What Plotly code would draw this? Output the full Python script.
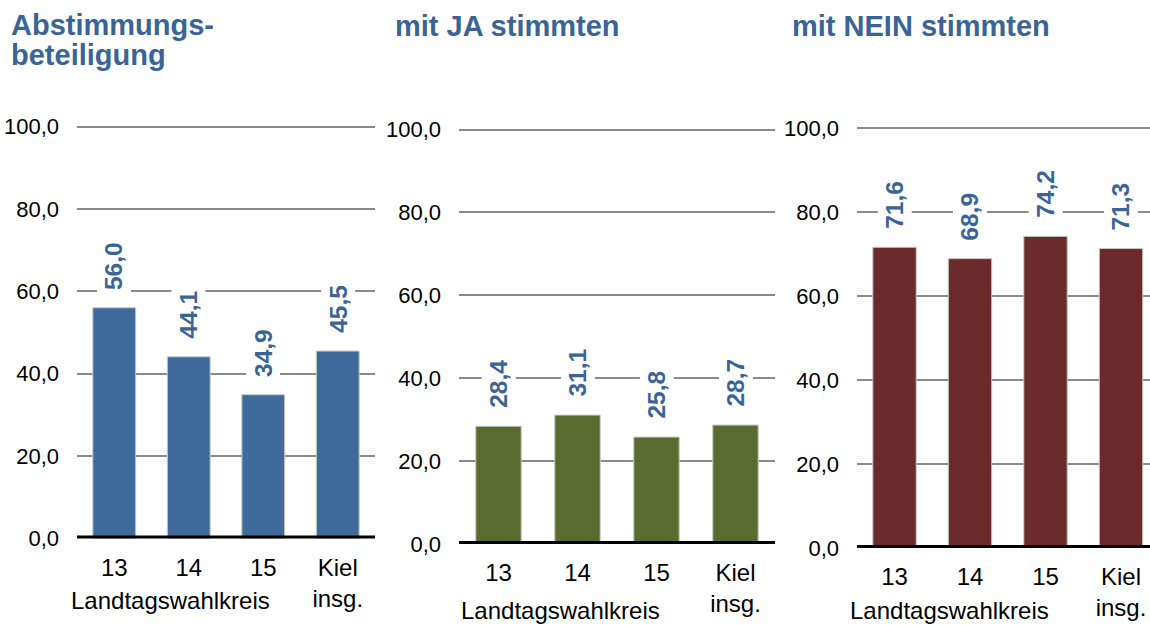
import plotly.graph_objects as go

categories = ["13", "14", "15", "Kiel insg."]
tick_labels = ["13", "14", "15", "Kiel<br>insg."]
beteiligung = [56.0, 44.1, 34.9, 45.5]
ja = [28.4, 31.1, 25.8, 28.7]
nein = [71.6, 68.9, 74.2, 71.3]
titles = ["Abstimmungs-", "beteiligung", "mit JA stimmten", "mit NEIN stimmten"]
axis_title = "Landtagswahlkreis"
y_ticks = [0, 20, 40, 60, 80, 100]
y_ticktext = ["0,0", "20,0", "40,0", "60,0", "80,0", "100,0"]

FONT = "Liberation Sans, Arial, sans-serif"
TITLE_BLUE = "#3B6496"
colors = ["#3E6A9C", "#5A6B2F", "#6A2B2A"]
W, H = 1150, 625

def px_x(p):
    return p / W

def px_y(p):
    return 1 - p / H

panels = [
    dict(vals=beteiligung, xd=(77, 375), yd=(538.5, 122.4), xr=[-0.5, 3.5], color=colors[0], lab=(170.5, 600)),
    dict(vals=ja, xd=(459, 775), yd=(544, 125.4), xr=[-0.5, 3.5], color=colors[1], lab=(560.5, 610)),
    dict(vals=nein, xd=(857, 1150), yd=(548, 123.8), xr=[-0.497, 3.384], color=colors[2], lab=(949, 610)),
]

fig = go.Figure()
annotations = []
shapes = []
layout = dict(
    template="none",
    width=W, height=H, margin=dict(l=0, r=0, t=0, b=0, pad=0, autoexpand=False),
    paper_bgcolor="white", plot_bgcolor="white", showlegend=False,
    font=dict(family=FONT, color="black"),
)

for i, p in enumerate(panels):
    n = "" if i == 0 else str(i + 1)
    xa, ya = "x" + n, "y" + n
    fig.add_trace(go.Bar(
        x=categories, y=p["vals"], xaxis=xa, yaxis=ya, width=0.575,
        marker=dict(color=p["color"], line=dict(color="#c8c8c8", width=1)),
        hoverinfo="skip",
    ))
    layout["xaxis" + n] = dict(
        domain=[px_x(p["xd"][0]), px_x(p["xd"][1])], range=p["xr"],
        anchor=ya, type="category", tickvals=categories, ticktext=tick_labels,
        showgrid=False, zeroline=False, showline=False, ticks="", automargin=False,
        tickfont=dict(size=24, family=FONT, color="black"), ticklabelstandoff=12,
    )
    layout["yaxis" + n] = dict(
        domain=[px_y(p["yd"][0]), px_y(p["yd"][1])], range=[0, 101],
        anchor=xa, tickvals=y_ticks, ticktext=y_ticktext,
        showgrid=True, gridcolor="#8a8a8a", gridwidth=1.8, automargin=False,
        zeroline=False, showline=False, ticks="",
        tickfont=dict(size=22, family=FONT, color="black"), ticklabelstandoff=17,
    )
    shapes.append(dict(type="line", xref=xa + " domain", yref=ya, x0=0, x1=1, y0=0, y1=0,
                       line=dict(color="black", width=6), layer="above"))
    for j, v in enumerate(p["vals"]):
        annotations.append(dict(
            x=j, y=v, xref=xa, yref=ya, text=f"{v:.1f}".replace(".", ","),
            textangle=-90, showarrow=False, yanchor="bottom", xanchor="center",
            yshift=14, bgcolor="white", borderpad=3,
            font=dict(size=24.5, family=FONT, color=TITLE_BLUE, weight="bold"),
        ))
    annotations.append(dict(
        x=px_x(p["lab"][0]), y=px_y(p["lab"][1]), xref="paper", yref="paper",
        text=axis_title, showarrow=False, xanchor="center", yanchor="middle",
        font=dict(size=24, family=FONT, color="black"),
    ))

title_pos = [(9, 25), (9, 55), (393, 26.5), (790, 26.5)]
for t, (tx, ty) in zip(titles, title_pos):
    annotations.append(dict(
        x=px_x(tx), y=px_y(ty), xref="paper", yref="paper", text=t,
        showarrow=False, xanchor="left", yanchor="middle",
        font=dict(size=29, family=FONT, color=TITLE_BLUE, weight="bold"),
    ))

layout["annotations"] = annotations
layout["shapes"] = shapes
fig.update_layout(**layout)
fig.write_html(
    "out.html",
    config={"displayModeBar": False},
    post_script="document.body.style.margin='0';document.body.style.overflow='hidden';",
)
